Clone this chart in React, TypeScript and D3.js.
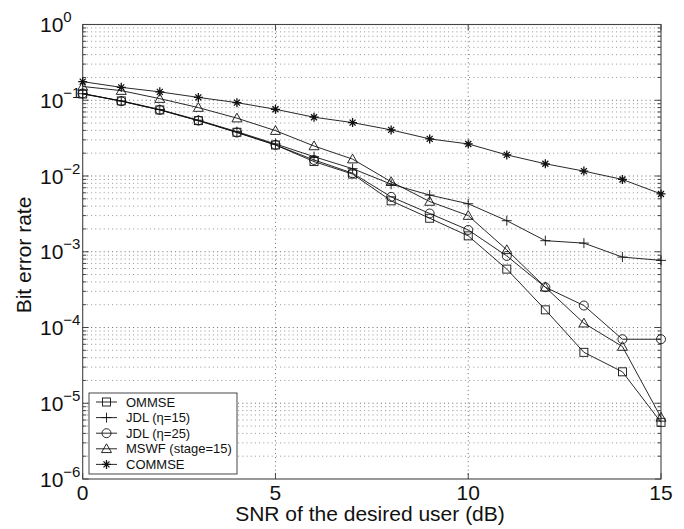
import React from "react";
import * as d3 from "d3";

const snr = [0, 1, 2, 3, 4, 5, 6, 7, 8, 9, 10, 11, 12, 13, 14, 15];
const ommse = [0.121, 0.098, 0.0745, 0.0538, 0.0378, 0.0257, 0.0155, 0.0106, 0.0047, 0.00277, 0.00162, 0.00059, 0.000171, 4.7e-5, 2.6e-5, 5.6e-6];
const jdl15 = [0.122, 0.098, 0.0755, 0.0545, 0.0385, 0.0265, 0.018, 0.0125, 0.0078, 0.0056, 0.0043, 0.00257, 0.0014, 0.0013, 0.00085, 0.00077];
const jdl25 = [0.123, 0.097, 0.0745, 0.054, 0.0375, 0.0257, 0.0163, 0.0109, 0.0053, 0.0032, 0.00194, 0.00088, 0.00034, 0.000195, 7.0e-5, 7.0e-5];
const mswf = [0.152, 0.134, 0.105, 0.08, 0.058, 0.0397, 0.0249, 0.0167, 0.0084, 0.0046, 0.003, 0.00106, 0.00034, 0.000114, 5.6e-5, 6.5e-6];
const commse = [0.176, 0.148, 0.129, 0.109, 0.093, 0.076, 0.0597, 0.0507, 0.0406, 0.0309, 0.0265, 0.019, 0.0145, 0.0116, 0.009, 0.0058];

const seriesNames = ["OMMSE", "JDL (\u03b7=15)", "JDL (\u03b7=25)", "MSWF (stage=15)", "COMMSE"];
const seriesMarkers = ["square", "plus", "circle", "triangle", "star"];
const seriesValues = [ommse, jdl15, jdl25, mswf, commse];

const xTicks = [0, 5, 10, 15];
const yExps = [0, -1, -2, -3, -4, -5, -6];

const FONT = "'Liberation Sans', Arial, Helvetica, sans-serif";

function Marker({ type, x, y }: { type: string; x: number; y: number }) {
  const s = 4;
  const common = { fill: "none", stroke: "#111", strokeWidth: 0.9 };
  if (type === "square") return <rect x={x - s} y={y - s} width={2 * s} height={2 * s} {...common} />;
  if (type === "circle") return <circle cx={x} cy={y} r={s + 0.5} {...common} />;
  if (type === "triangle") {
    const h = 5;
    return <path d={`M${x},${y - h} L${x + h},${y + h * 0.75} L${x - h},${y + h * 0.75} Z`} {...common} />;
  }
  if (type === "plus") return <path d={`M${x - s - 1},${y} H${x + s + 1} M${x},${y - s - 1} V${y + s + 1}`} {...common} />;
  // star
  const d = s * 0.75;
  return (
    <path
      d={`M${x - s - 0.5},${y} H${x + s + 0.5} M${x},${y - s - 0.5} V${y + s + 0.5} M${x - d},${y - d} L${x + d},${y + d} M${x - d},${y + d} L${x + d},${y - d}`}
      fill="none"
      stroke="#111"
      strokeWidth={1.3}
    />
  );
}

export default function App() {
  const W = 684, H = 529;
  const left = 82.7, right = 661, top = 24.5, bottom = 479;
  const x = d3.scaleLinear().domain([0, 15]).range([left, right]);
  const y = d3.scaleLog().domain([1e-6, 1]).range([bottom, top]);

  const minor: number[] = [];
  for (let e = -6; e < 0; e++) for (let m = 2; m <= 9; m++) minor.push(m * Math.pow(10, e));
  const major = yExps.map((e) => Math.pow(10, e));

  const line = d3
    .line<number>()
    .x((_, i) => x(snr[i]))
    .y((v) => y(v));

  return (
    <svg width={W} height={H} style={{ position: "absolute", left: 0, top: 0, background: "#fff" }} fontFamily={FONT}>
      {/* grid */}
      <g stroke="#444" strokeWidth={0.8} strokeDasharray="1,3.2">
        {minor.map((v, i) => (
          <line key={"mg" + i} x1={left} x2={right} y1={y(v)} y2={y(v)} stroke="#777" />
        ))}
        {major.slice(1, -1).map((v, i) => (
          <line key={"Mg" + i} x1={left} x2={right} y1={y(v)} y2={y(v)} />
        ))}
        {xTicks.slice(1, -1).map((t) => (
          <line key={"xg" + t} x1={x(t)} x2={x(t)} y1={top} y2={bottom} />
        ))}
      </g>
      {/* ticks */}
      <g stroke="#333" strokeWidth={0.9}>
        {minor.map((v, i) => (
          <g key={"mt" + i}>
            <line x1={left} x2={left + 3.5} y1={y(v)} y2={y(v)} />
            <line x1={right} x2={right - 3.5} y1={y(v)} y2={y(v)} />
          </g>
        ))}
        {major.map((v, i) => (
          <g key={"Mt" + i}>
            <line x1={left} x2={left + 6} y1={y(v)} y2={y(v)} />
            <line x1={right} x2={right - 6} y1={y(v)} y2={y(v)} />
          </g>
        ))}
        {xTicks.map((t) => (
          <g key={"xt" + t}>
            <line x1={x(t)} x2={x(t)} y1={bottom} y2={bottom - 6} />
            <line x1={x(t)} x2={x(t)} y1={top} y2={top + 6} />
          </g>
        ))}
      </g>
      <rect x={left} y={top} width={right - left} height={bottom - top} fill="none" stroke="#444" strokeWidth={1.1} />

      {/* series */}
      {seriesValues.map((vals, si) => (
        <g key={"s" + si}>
          <path d={line(vals) || ""} fill="none" stroke="#111" strokeWidth={0.9} />
          {vals.map((v, i) => (
            <Marker key={i} type={seriesMarkers[si]} x={x(snr[i])} y={y(v)} />
          ))}
        </g>
      ))}

      {/* y tick labels */}
      {yExps.map((e) => (
        <text key={"yl" + e} x={40} y={y(Math.pow(10, e)) + 7.5} fontSize={21} fill="#111">
          10
          <tspan dy={-10} fontSize={15}>
            {e === 0 ? "0" : "\u2212" + Math.abs(e)}
          </tspan>
        </text>
      ))}
      {/* x tick labels */}
      {xTicks.map((t) => (
        <text key={"xl" + t} x={x(t)} y={500} fontSize={21} textAnchor="middle" fill="#111">
          {t}
        </text>
      ))}
      <text x={370} y={521} fontSize={21} textAnchor="middle" fill="#111">
        SNR of the desired user (dB)
      </text>
      <text transform={`translate(31,255) rotate(-90)`} fontSize={21} textAnchor="middle" fill="#111">
        Bit error rate
      </text>

      {/* legend */}
      <g>
        <rect x={89} y={393} width={148} height={81} fill="#fff" stroke="#333" strokeWidth={0.9} />
        {seriesNames.map((n, i) => {
          const ly = 402 + i * 15.6;
          return (
            <g key={"lg" + i}>
              <line x1={96} x2={117} y1={ly} y2={ly} stroke="#111" strokeWidth={0.9} />
              <Marker type={seriesMarkers[i]} x={106.5} y={ly} />
              <text x={126} y={ly + 4.6} fontSize={13} fill="#111">
                {n}
              </text>
            </g>
          );
        })}
      </g>
    </svg>
  );
}
